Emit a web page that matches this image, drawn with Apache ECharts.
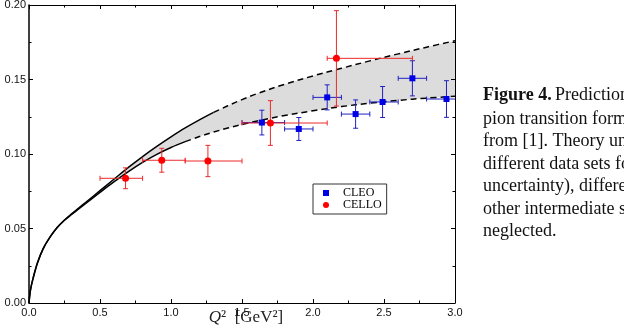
<!DOCTYPE html>
<html><head><meta charset="utf-8">
<script src="https://cdn.jsdelivr.net/npm/echarts@6/dist/echarts.min.js"></script>
<style>html,body{margin:0;padding:0;background:#fff}#c{width:624px;height:336px}</style>
</head><body><div id="c"></div>
<script>
// ---- theory band (Q^2 F(Q^2)) ----
const qGrid  = [0, 0.01, 0.03, 0.06, 0.1, 0.15, 0.2, 0.25, 0.3, 0.35, 0.4, 0.5, 0.6, 0.7, 0.8, 0.9, 1.0, 1.1, 1.2, 1.3, 1.4, 1.5, 1.6, 1.8, 2.0, 2.2, 2.4, 2.6, 2.8, 3.0];
const upperF = [0, 0.0085, 0.017, 0.027, 0.0365, 0.0445, 0.0508, 0.0557, 0.0598, 0.0637, 0.0676, 0.0754, 0.0832, 0.0910, 0.0983, 0.1051, 0.1115, 0.1175, 0.1229, 0.1279, 0.1324, 0.1365, 0.1403, 0.1468, 0.1524, 0.1575, 0.1625, 0.1672, 0.1717, 0.1760];
const lowerF = [0, 0.0085, 0.017, 0.027, 0.0365, 0.0445, 0.0508, 0.0555, 0.0594, 0.0631, 0.0668, 0.0742, 0.0814, 0.0882, 0.0944, 0.0998, 0.1044, 0.1083, 0.1117, 0.1147, 0.1174, 0.1198, 0.1220, 0.1258, 0.1290, 0.1318, 0.1341, 0.1360, 0.1375, 0.1387];
const upperSolidUntil = 1.3;
const lowerSolidUntil = 1.1;

// ---- CLEO data ----
const cleoQ2   = [1.64, 1.90, 2.10, 2.30, 2.49, 2.70, 2.94];
const cleoQ2Lo = [1.50, 1.80, 2.00, 2.20, 2.40, 2.60, 2.80];
const cleoQ2Hi = [1.80, 2.00, 2.20, 2.40, 2.60, 2.80, 3.10];
const cleoF    = [0.1211, 0.1168, 0.1380, 0.1268, 0.1349, 0.1508, 0.1369];
const cleoErr  = [0.0083, 0.0077, 0.0084, 0.0095, 0.0104, 0.0118, 0.0123];

// ---- CELLO data ----
const celloQ2   = [0.68, 0.935, 1.26, 1.70, 2.165];
const celloQ2Lo = [0.50, 0.80, 1.10, 1.50, 2.10];
const celloQ2Hi = [0.80, 1.10, 1.50, 2.10, 2.70];
const celloF    = [0.0837, 0.0958, 0.0953, 0.1208, 0.1642];
const celloErr  = [0.0070, 0.0080, 0.0105, 0.0150, 0.0320];

// ---- tick labels ----
const xTickLabels = ['0.0', '0.5', '1.0', '1.5', '2.0', '2.5', '3.0'];
const yTickLabels = ['0.00', '0.05', '0.10', '0.15', '0.20'];

const captionLines = [
  'pion transition form factor',
  'from [1]. Theory uncertainties',
  'different data sets for',
  'uncertainty), different',
  'other intermediate states',
  'neglected.'
];

const BLUE = '#0000e6', BLUE_BAR = '#2020c0';
const RED = '#ff0000', RED_BAR = '#ee2828';

const pairs = (xs, ys) => xs.map((x, i) => [x, ys[i]]);
const upperSolid = pairs(qGrid, upperF).filter(p => p[0] <= upperSolidUntil);
const upperDash  = pairs(qGrid, upperF).filter(p => p[0] >= upperSolidUntil);
const lowerSolid = pairs(qGrid, lowerF).filter(p => p[0] <= lowerSolidUntil);
const lowerDash  = pairs(qGrid, lowerF).filter(p => p[0] >= lowerSolidUntil);

function errData(x, lo, hi, y, e) {
  return x.map((v, i) => [v, y[i], lo[i], hi[i], y[i] - e[i], y[i] + e[i]]);
}
function errRender(color) {
  return function (params, api) {
    const x = api.value(0), y = api.value(1);
    const pL = api.coord([api.value(2), y]), pR = api.coord([api.value(3), y]);
    const pB = api.coord([x, api.value(4)]), pT = api.coord([x, api.value(5)]);
    const c = 2.5;
    const st = { stroke: color, lineWidth: 1 };
    const L = (x1, y1, x2, y2) => ({ type: 'line', shape: { x1, y1, x2, y2 }, style: st });
    const cs = params.coordSys;
    return {
      type: 'group',
      clipPath: { type: 'rect', shape: { x: cs.x, y: cs.y, width: cs.width, height: cs.height } },
      children: [
        L(pL[0], pL[1], pR[0], pR[1]),
        L(pL[0], pL[1] - c, pL[0], pL[1] + c),
        L(pR[0], pR[1] - c, pR[0], pR[1] + c),
        L(pB[0], pB[1], pT[0], pT[1]),
        L(pB[0] - c, pB[1], pB[0] + c, pB[1]),
        L(pT[0] - c, pT[1], pT[0] + c, pT[1])
      ]
    };
  };
}

const axisCommon = {
  type: 'value', z: 10,
  axisLine: { show: true, onZero: false, lineStyle: { color: '#000', width: 1 } },
  axisTick: { show: true, inside: true, length: 4, lineStyle: { color: '#000' } },
  minorTick: { show: true, splitNumber: 2, length: 2.5, lineStyle: { color: '#000' } },
  splitLine: { show: false }
};
const FONT_SANS = 'Liberation Sans, Arial, sans-serif';
const FONT_SERIF = 'Liberation Serif, Times New Roman, serif';
const SMOOTH = 0.35;

const chart = echarts.init(document.getElementById('c'), null, { renderer: 'canvas' });
chart.setOption({
  animation: false,
  backgroundColor: '#fff',
  grid: { left: 29, top: 5, width: 426, height: 298, outerBoundsMode: 'none', containLabel: false },
  xAxis: [
    Object.assign({}, axisCommon, {
      min: 0, max: 3, interval: 0.5, position: 'bottom',
      axisLabel: { show: true, margin: 4, fontSize: 11, color: '#111', fontFamily: FONT_SANS,
        formatter: v => xTickLabels[Math.round(v / 0.5)] }
    }),
    Object.assign({}, axisCommon, {
      min: 0, max: 3, interval: 0.5, position: 'top', axisLabel: { show: false }
    })
  ],
  yAxis: [
    Object.assign({}, axisCommon, {
      min: 0, max: 0.2, interval: 0.05, position: 'left',
      axisLine: { show: true, onZero: false, lineStyle: { color: '#000', width: 1.5 } },
      axisLabel: { show: true, margin: 3, fontSize: 11, color: '#111', fontFamily: FONT_SANS,
        formatter: v => yTickLabels[Math.round(v / 0.05)] }
    }),
    Object.assign({}, axisCommon, {
      min: 0, max: 0.2, interval: 0.05, position: 'right', axisLabel: { show: false }
    })
  ],
  legend: {
    orient: 'vertical', left: 313, top: 184, itemWidth: 6, itemHeight: 6, itemGap: 0,
    padding: [3, 5, 3, 10], borderColor: '#333', borderWidth: 1, backgroundColor: '#fff',
    textStyle: { fontFamily: FONT_SERIF, fontSize: 12, color: '#000', padding: [0, 0, 0, 9] },
    data: [{ name: 'CLEO', icon: 'rect' }, { name: 'CELLO', icon: 'circle' }]
  },
  series: [
    { type: 'line', name: 'bandUpper', data: pairs(qGrid, upperF), symbol: 'none',
      smooth: SMOOTH, lineStyle: { opacity: 0 }, areaStyle: { color: '#dcdcdc', opacity: 1 }, silent: true, z: 1 },
    { type: 'line', name: 'bandLower', data: pairs(qGrid, lowerF), symbol: 'none',
      smooth: SMOOTH, lineStyle: { opacity: 0 }, areaStyle: { color: '#ffffff', opacity: 1 }, silent: true, z: 2 },
    { type: 'line', name: 'upS', data: upperSolid, symbol: 'none', smooth: SMOOTH,
      lineStyle: { color: '#000', width: 1.5 }, z: 3 },
    { type: 'line', name: 'upD', data: upperDash, symbol: 'none', smooth: SMOOTH,
      lineStyle: { color: '#000', width: 1.5, type: [6, 4] }, z: 3 },
    { type: 'line', name: 'loS', data: lowerSolid, symbol: 'none', smooth: SMOOTH,
      lineStyle: { color: '#000', width: 1.5 }, z: 3 },
    { type: 'line', name: 'loD', data: lowerDash, symbol: 'none', smooth: SMOOTH,
      lineStyle: { color: '#000', width: 1.5, type: [6, 4] }, z: 3 },
    { type: 'custom', name: 'cleoErr', renderItem: errRender(BLUE_BAR),
      data: errData(cleoQ2, cleoQ2Lo, cleoQ2Hi, cleoF, cleoErr), z: 4, silent: true },
    { type: 'custom', name: 'celloErr', renderItem: errRender(RED_BAR),
      data: errData(celloQ2, celloQ2Lo, celloQ2Hi, celloF, celloErr), z: 4, silent: true },
    { type: 'scatter', name: 'CLEO', data: pairs(cleoQ2, cleoF), symbol: 'rect', symbolSize: 6,
      itemStyle: { color: BLUE, opacity: 1 }, z: 5 },
    { type: 'scatter', name: 'CELLO', data: pairs(celloQ2, celloF), symbol: 'circle', symbolSize: 7,
      itemStyle: { color: RED, opacity: 1 }, z: 5 }
  ],
  graphic: [
    { type: 'text', x: 246, y: 318, style: {
        text: '{i|Q}{n|²  [GeV²]}', align: 'center', verticalAlign: 'middle',
        rich: { i: { fontFamily: FONT_SERIF, fontStyle: 'italic', fontSize: 17, fill: '#222' },
                n: { fontFamily: FONT_SERIF, fontSize: 17, fill: '#222' } } } },
    { type: 'text', left: 483, top: 86, style: {
        text: '{b|Figure 4.} {r|Prediction for the}',
        rich: { b: { fontFamily: FONT_SERIF, fontWeight: 'bold', fontSize: 18, fill: '#111' },
                r: { fontFamily: FONT_SERIF, fontSize: 18, fill: '#111' } } } }
  ].concat(captionLines.map((t, i) => ({
    type: 'text', left: 483, top: 110 + i * 22.5,
    style: { text: t, fontFamily: FONT_SERIF, fontSize: 18, fill: '#111' }
  })))
});
</script>
</body></html>
